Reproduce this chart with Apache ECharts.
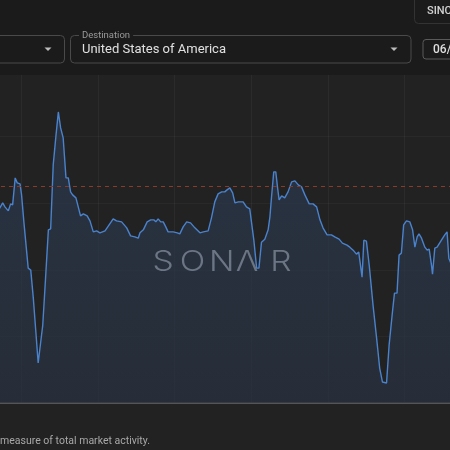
<!DOCTYPE html>
<html>
<head>
<meta charset="utf-8">
<script src="https://cdn.jsdelivr.net/npm/echarts@6/dist/echarts.min.js"></script>
<style>
  html, body { margin: 0; padding: 0; background: #222222; }
  #chart { width: 450px; height: 450px; }
</style>
</head>
<body>
<div id="chart"></div>
<script>
// Day index along the x axis (grid line every 30 days)
const days = [
  20.4, 21.5, 22.6, 23.5, 24.8, 25.7, 26.5, 27.5, 28.3, 29.4, 30.0, 30.9, 32.6, 33.6, 34.6, 35.6, 36.5, 37.2,
  38.3, 39.4, 40.5, 41.4, 42.4, 43.5, 44.4, 45.3, 46.3, 47.4, 48.3, 49.2, 50.0, 51.3, 53.1, 54.2, 55.7, 56.8,
  58.1, 59.4, 60.7, 62.7, 64.3, 65.9, 67.2, 69.2, 71.2, 72.7, 74.4, 75.7, 76.4, 77.7, 79.2, 80.6, 81.8, 82.6,
  83.5, 84.5, 85.5, 86.5, 87.4, 89.4, 91.0, 92.0, 93.3, 94.7, 96.2, 97.9, 99.9, 101.2, 103.1, 104.4, 105.7, 107.0,
  108.4, 109.6, 110.5, 111.6, 112.7, 113.6, 114.9, 116.8, 118.1, 119.4, 120.1, 121.0, 122.1, 123.0, 124.0, 125.3,
  126.6, 127.3, 127.9, 128.8, 129.6, 130.3, 130.9, 131.9, 133.1, 134.4, 135.8, 137.1, 138.4, 139.7, 141.0, 142.7,
  144.2, 145.6, 146.9, 148.1, 149.7, 151.4, 152.7, 154.4, 155.7, 157.5, 158.6, 159.9, 161.2, 162.1, 162.5, 163.4,
  164.1, 165.1, 166.2, 167.7, 169.1, 170.3, 171.4, 173.0, 174.0, 175.3, 176.1, 177.1, 177.9, 178.8, 179.7, 180.8,
  182.1, 183.2, 184.1, 185.0, 185.7, 186.7, 188.0, 188.9, 189.7, 190.6, 191.0, 191.9, 192.8, 194.5, 195.8, 196.7,
  197.4, 198.5
];
// Market activity index values
const values = [
  58.0, 58.6, 60.1, 58.9, 57.7, 59.8, 59.5, 67.6, 66.1, 65.8, 62.5, 54.4, 40.5, 39.9, 31.5, 21.3, 12.0, 11.7,
  23.4, 37.5, 52.0, 52.3, 71.5, 80.5, 87.4, 82.6, 79.6, 67.6, 67.6, 63.4, 62.5, 61.6, 56.2, 56.8, 56.2, 54.7,
  51.4, 51.7, 51.1, 51.7, 53.5, 55.3, 54.7, 54.4, 52.6, 50.2, 49.9, 49.5, 51.1, 52.0, 54.4, 55.0, 55.0, 54.4,
  55.3, 54.4, 54.4, 52.9, 51.4, 51.4, 51.1, 50.8, 52.9, 54.4, 54.1, 52.6, 51.1, 51.4, 51.7, 55.6, 60.4, 62.8,
  63.4, 63.4, 64.0, 64.6, 63.1, 60.1, 60.4, 60.4, 58.9, 58.3, 57.7, 48.9, 40.5, 40.5, 48.3, 49.2,
  52.0, 55.9, 61.6, 69.4, 69.4, 64.6, 61.0, 62.2, 61.6, 63.4, 66.4, 66.7, 65.5, 64.9, 62.5, 59.8,
  59.8, 58.9, 55.0, 52.6, 50.5, 50.5, 49.9, 49.2, 48.0, 47.4, 46.8, 45.9, 44.7, 45.3, 45.0, 37.8,
  48.9, 48.6, 41.4, 29.4, 19.5, 10.5, 6.3, 6.0, 17.4, 27.3, 33.0, 33.0, 44.4, 45.0, 53.5, 54.7,
  54.4, 52.0, 46.8, 49.9, 50.8, 49.5, 46.8, 45.9, 46.2, 41.4, 38.7, 46.5, 46.8, 48.9, 50.5, 51.4,
  43.5, 41.4
];
const referenceLevel = 65.2;
const watermarkLetters = ['S', 'O', 'N', 'Λ', 'R'];
const destinationLabel = 'Destination';
const destinationValue = 'United States of America';
const captionText = 'measure of total market activity.';

const chart = echarts.init(document.getElementById('chart'), null, { renderer: 'canvas' });

const font = 'Roboto, "Noto Sans", sans-serif';
const wmFont = 'Inter, "Noto Sans", sans-serif';
const wmCenters = [163, 192.5, 221.7, 247, 281];

const graphics = [
  // header panel
  { type: 'rect', z: 10, shape: { x: 0, y: 0, width: 450, height: 75 }, style: { fill: '#1b1b1b' } },
  // SINC button
  { type: 'rect', z: 11, shape: { x: 414.5, y: -6, width: 50, height: 29.5, r: 4 }, style: { fill: '#1b1b1b', stroke: '#333', lineWidth: 1 } },
  { type: 'text', z: 12, style: { x: 427, y: 11.5, text: 'SINC', fill: '#d2d2d2', font: '500 11px ' + font, verticalAlign: 'middle' } },
  // first dropdown (cut off)
  { type: 'rect', z: 11, shape: { x: -10, y: 35.5, width: 74.5, height: 27.5, r: 4 }, style: { fill: '#1b1b1b', stroke: '#4a4a4a', lineWidth: 1 } },
  { type: 'polygon', z: 12, shape: { points: [[44.5, 47.5], [51.5, 47.5], [48, 51]] }, style: { fill: '#bdbdbd' } },
  // destination dropdown
  { type: 'rect', z: 11, shape: { x: 70.5, y: 35.5, width: 340.5, height: 27.5, r: 4 }, style: { fill: '#1b1b1b', stroke: '#4a4a4a', lineWidth: 1 } },
  { type: 'text', z: 12, style: { x: 79, y: 35.5, text: destinationLabel, fill: '#9a9a9a', font: '9.5px ' + font, verticalAlign: 'middle', backgroundColor: '#1b1b1b', padding: [0, 3] } },
  { type: 'text', z: 12, style: { x: 82, y: 49.5, text: destinationValue, fill: '#e0e0e0', font: '13px ' + font, verticalAlign: 'middle' } },
  { type: 'polygon', z: 12, shape: { points: [[390.5, 47.5], [397.5, 47.5], [394, 51]] }, style: { fill: '#bdbdbd' } },
  // date box (cut off)
  { type: 'rect', z: 11, shape: { x: 423, y: 39.5, width: 40, height: 19.5, r: 3 }, style: { fill: '#1b1b1b', stroke: '#5a5a5a', lineWidth: 1 } },
  { type: 'text', z: 12, style: { x: 433, y: 49.5, text: '06/', fill: '#dedede', font: '500 12px ' + font, verticalAlign: 'middle' } },
  // caption
  { type: 'text', z: 12, style: { x: 0, y: 441, text: captionText, fill: '#a8a8a8', font: '10.5px ' + font, verticalAlign: 'middle' } }
];
watermarkLetters.forEach((ch, i) => {
  graphics.push({
    type: 'text', z: 5, x: wmCenters[i], y: 263, scaleX: 1.2, scaleY: 1,
    style: { x: 0, y: 0, text: ch, fill: 'rgba(150,160,176,0.62)', font: '300 28px ' + wmFont, align: 'center', verticalAlign: 'middle' }
  });
});

chart.setOption({
  backgroundColor: '#222222',
  animation: false,
  grid: { left: -55, right: -31, top: 70, bottom: 47, containLabel: false, outerBoundsMode: 'none' },
  xAxis: {
    type: 'value', min: 0, max: 210, interval: 30,
    axisLine: { show: true, onZero: false, lineStyle: { color: '#555555', width: 2 } },
    axisTick: { show: false }, axisLabel: { show: false },
    splitLine: { show: true, lineStyle: { color: 'rgba(255,255,255,0.045)', width: 1 } }
  },
  yAxis: {
    type: 'value', min: 0, max: 100, interval: 20,
    axisLine: { show: false }, axisTick: { show: false }, axisLabel: { show: false },
    splitLine: { show: true, lineStyle: { color: 'rgba(255,255,255,0.035)', width: 1 } }
  },
  series: [{
    type: 'line',
    data: days.map((d, i) => [d, values[i]]),
    showSymbol: false,
    smooth: false,
    z: 3,
    lineStyle: { color: '#4a82cc', width: 1.4 },
    areaStyle: {
      color: new echarts.graphic.LinearGradient(0, 0, 0, 1, [
        { offset: 0, color: '#2c3a50' },
        { offset: 1, color: '#283242' }
      ])
    },
    markLine: {
      silent: true, symbol: 'none',
      label: { show: false },
      lineStyle: { color: '#8c3a28', type: [4, 4], width: 1 },
      data: [{ yAxis: referenceLevel }]
    }
  }],
  graphic: graphics
});
</script>
</body>
</html>
